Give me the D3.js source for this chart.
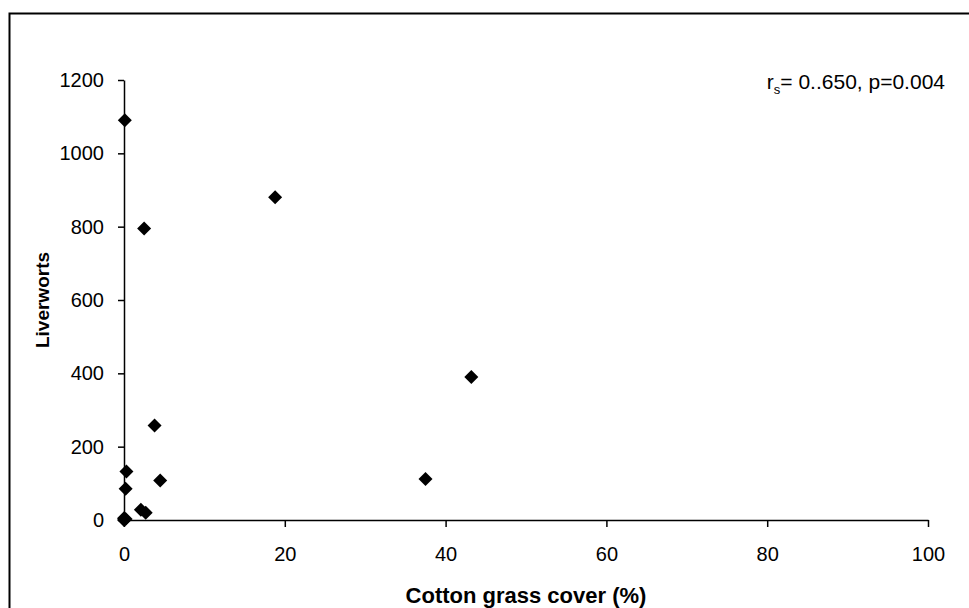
<!DOCTYPE html>
<html>
<head>
<meta charset="utf-8">
<script src="https://cdn.jsdelivr.net/npm/d3@7"></script>
<style>
  body { margin: 0; background: #fff; }
  svg { font-family: "Liberation Sans", Arial, sans-serif; }
</style>
</head>
<body>
<svg width="969" height="608"></svg>
<script>
(function () {
  'use strict';

  // cotton grass cover (%) vs liverworts
  const cover = [0, 0, 0.2, 2.1, 2.7, 0.2, 0.3, 4.5, 3.8, 0.1, 2.5, 18.8, 37.5, 43.2];
  const liverworts = [0, 5, 3, 28, 20, 85, 132, 108, 258, 1090, 795, 880, 112, 390];
  const xTicks = [0, 20, 40, 60, 80, 100];
  const yTicks = [0, 200, 400, 600, 800, 1000, 1200];

  const svg = d3.select('svg');

  var w = 969;
  var h = 608;

  // outer frame, runs off the right and bottom edge
  svg.append('rect')
    .attr('x', 9.5).attr('y', 13.5)
    .attr('width', w).attr('height', h)
    .attr('fill', 'none')
    .attr('stroke', '#000')
    .attr('stroke-width', 2);

  const x = d3.scaleLinear().domain([0, 100]).range([124, 928]);
  const y = d3.scaleLinear().domain([0, 1200]).range([520, 80]);

  const xAxis = svg.append('g')
    .attr('transform', 'translate(0,520)')
    .call(d3.axisBottom(x).tickValues(xTicks).tickFormat(d3.format('d'))
      .tickSize(7).tickPadding(20).tickSizeOuter(0));

  const yAxis = svg.append('g')
    .attr('transform', 'translate(124,0)')
    .call(d3.axisLeft(y).tickValues(yTicks).tickFormat(d3.format('d'))
      .tickSize(6).tickPadding(14).tickSizeOuter(0));

  [xAxis, yAxis].forEach(a => {
    a.attr('font-size', null).attr('font-family', null);
    a.select('.domain').attr('stroke', '#000').attr('stroke-width', 1.5);
    a.selectAll('.tick line').attr('stroke', '#000').attr('stroke-width', 1.5);
    a.selectAll('.tick text')
      .attr('fill', '#000')
      .style('font-size', '20px');
  });

  // diamonds
  const r = 7;
  svg.append('g').selectAll('path')
    .data(cover.map((c, i) => [c, liverworts[i]]))
    .enter().append('path')
      .attr('d', d => {
        const cx = x(d[0]), cy = y(d[1]);
        return `M${cx},${cy - r}L${cx + r},${cy}L${cx},${cy + r}L${cx - r},${cy}Z`;
      })
      .attr('fill', '#000');

  svg.append('text')
    .attr('x', 526).attr('y', 603)
    .attr('text-anchor', 'middle')
    .style('font-size', '22px')
    .style('font-weight', 'bold')
    .text('Cotton grass cover (%)');

  svg.append('text')
    .attr('transform', 'translate(49,300) rotate(-90)')
    .attr('text-anchor', 'middle')
    .style('font-size', '19px')
    .style('font-weight', 'bold')
    .text('Liverworts');

  const note = svg.append('text')
    .attr('x', 945).attr('y', 89)
    .attr('text-anchor', 'end')
    .style('font-size', '21px');
  note.append('tspan').text('r');
  note.append('tspan').attr('dy', 5).style('font-size', '13px').text('s');
  note.append('tspan').attr('dy', -5).text('= 0..650, p=0.004');
}());
</script>
</body>
</html>
